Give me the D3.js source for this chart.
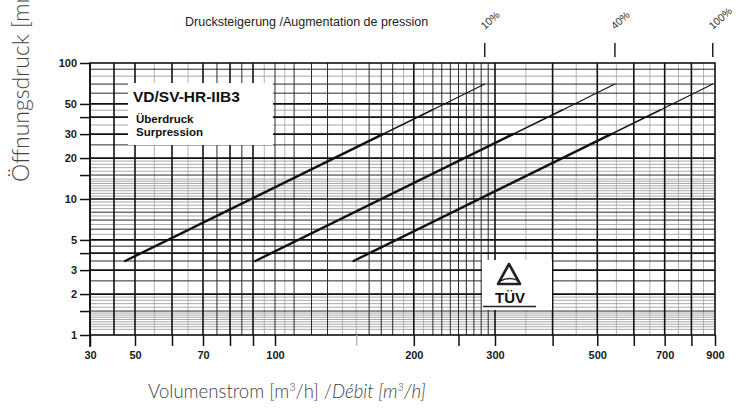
<!DOCTYPE html>
<html>
<head>
<meta charset="utf-8">
<script src="https://cdn.jsdelivr.net/npm/d3@7"></script>
<style>
body { margin: 0; background: #fff; }
svg { display: block; }
.tick text { font-family: "Liberation Sans", Arial, sans-serif; font-weight: bold; font-size: 11px; fill: #1a1a1a; }
.caption { font-family: "Lato", "Open Sans", sans-serif; font-weight: 300; fill: #444; }
</style>
</head>
<body>
<svg id="chart" width="738" height="414"></svg>
<script>
// ---- data ----
var xTickValues = [30, 50, 60, 70, 80, 90, 100, 150, 200, 250, 300, 400, 500, 600, 700, 800, 900];
var xTickLabels = [30, 50, 70, 100, 200, 300, 500, 700, 900];
var yTickValues = [1, 1.5, 2, 3, 4, 5, 10, 15, 20, 30, 40, 50, 100];
var yTickLabels = [1, 2, 3, 5, 10, 20, 30, 50, 100];

var curveNames = ["10%", "40%", "100%"];
var flowStart = [45, 91, 148];   // m3/h at the low end of each curve
var flowEnd = [285, 546, 890];   // m3/h at the top end
var pressStart = 3.5;
var pressEnd = 70;

// grid lines of the printed log paper
var vMajor = [40, 50, 60, 70, 80, 90, 200, 300, 400, 500, 600, 700, 800];
var vMinor = [75, 85, 100, 110, 120, 130, 160, 170, 180, 220, 230, 240, 250, 260, 270, 280, 290];
var vGray = [55, 65, 95, 105, 140, 150, 190, 210, 350, 450, 550, 650, 750, 850];
var hMajor = [2, 3, 4, 5, 10, 20, 30, 40, 50];
var hMinor = [1.5, 2.5, 3.5, 4.5, 6, 7, 8, 15, 25, 60, 70, 90];
var hGray = [1.1, 1.15, 1.2, 1.25, 1.3, 1.35, 1.4, 1.45, 1.6, 1.7, 1.8, 1.9, 5.5, 6.5, 7.5, 8.5, 9, 9.5,
             10.5, 11, 11.5, 12, 12.5, 13, 13.5, 14, 16, 17, 18, 19, 35, 45, 80];

var svg = d3.select("#chart");
var pLeft = 90, pRight = 715, pTop = 63, pBottom = 335;

// the scanned x axis is squeezed below 100, so a piecewise log scale
var x = d3.scaleLog()
  .domain([30, 40, 50, 60, 70, 80, 90, 100, 900])
  .range([pLeft, 114, 135, 172, 203, 230, 253, 275, pRight]);
var y = d3.scaleLog().domain([1, 100]).range([pBottom, pTop]);

var grid = svg.append("g");

function vLines(vals, color, w) {
  grid.selectAll(null).data(vals).join("line")
    .attr("x1", d => x(d)).attr("x2", d => x(d))
    .attr("y1", pTop).attr("y2", pBottom)
    .attr("stroke", color).attr("stroke-width", w);
}
function hLines(vals, color, w) {
  grid.selectAll(null).data(vals).join("line")
    .attr("x1", pLeft).attr("x2", pRight)
    .attr("y1", d => y(d)).attr("y2", d => y(d))
    .attr("stroke", color).attr("stroke-width", w);
}
vLines(vGray, "#b4b4b4", 1);
hLines(hGray, "#a8a8a8", 1);
vLines(vMinor, "#2a2a2a", 1);
hLines(hMinor, "#2a2a2a", 1);
vLines(vMajor, "#111", 1.6);
hLines(hMajor, "#111", 1.7);

// frame
svg.append("rect").attr("x", pLeft).attr("y", pTop)
  .attr("width", pRight - pLeft).attr("height", pBottom - pTop)
  .attr("fill", "none").attr("stroke", "#111").attr("stroke-width", 1.6);

// legend box
var lg = svg.append("g");
lg.append("rect").attr("x", 128).attr("y", 83).attr("width", 145).attr("height", 62).attr("fill", "#fff");
lg.append("text").attr("x", 133).attr("y", 102)
  .style("font-family", "Liberation Sans, Arial, sans-serif").style("font-weight", "bold")
  .style("font-size", "15.5px").attr("fill", "#111").text("VD/SV-HR-IIB3");
lg.append("text").attr("x", 136).attr("y", 123)
  .style("font-family", "Liberation Sans, Arial, sans-serif").style("font-weight", "bold")
  .style("font-size", "11.5px").attr("fill", "#111").text("Überdruck");
lg.append("text").attr("x", 136).attr("y", 136)
  .style("font-family", "Liberation Sans, Arial, sans-serif").style("font-weight", "bold")
  .style("font-size", "11.5px").attr("fill", "#111").text("Surpression");

// TÜV logo box
var tv = svg.append("g");
tv.append("rect").attr("x", 482).attr("y", 260).attr("width", 70).attr("height", 50).attr("fill", "#fff");
tv.append("path").attr("d", "M509,264 L520,284 L498,284 Z")
  .attr("fill", "none").attr("stroke", "#222").attr("stroke-width", 2.6).attr("stroke-linejoin", "round");
tv.append("path").attr("d", "M500,281 Q510,276 519,281")
  .attr("fill", "none").attr("stroke", "#222").attr("stroke-width", 1.6);
tv.append("text").attr("x", 510).attr("y", 303).attr("text-anchor", "middle")
  .style("font-family", "Liberation Sans, Arial, sans-serif").style("font-weight", "bold")
  .style("font-size", "15px").attr("fill", "#111").text("TÜV");
tv.append("line").attr("x1", 483).attr("x2", 536).attr("y1", 306.5).attr("y2", 306.5)
  .attr("stroke", "#222").attr("stroke-width", 1.4);

// curves: thick at the bottom, thinner towards the top
var curves = curveNames.map(function(name, i) {
  return { name: name, q0: flowStart[i], q1: flowEnd[i] };
});
var pieces = [[pressStart, 30, 2.4], [30, 45, 1.6], [45, pressEnd, 1.1]];
var cg = svg.append("g");
curves.forEach(function(c) {
  var x0 = x(c.q0), y0 = y(pressStart), x1 = x(c.q1), y1 = y(pressEnd);
  function at(p) { var t = (y0 - y(p)) / (y0 - y1); return [x0 + t * (x1 - x0), y(p)]; }
  pieces.forEach(function(s) {
    var a = at(s[0]), b = at(s[1]);
    cg.append("line").attr("x1", a[0]).attr("y1", a[1]).attr("x2", b[0]).attr("y2", b[1])
      .attr("stroke", "#111").attr("stroke-width", s[2]).attr("stroke-linecap", "round");
  });
});

// axes
var yAxis = svg.append("g").attr("transform", "translate(" + pLeft + ",0)")
  .call(d3.axisLeft(y).tickValues(yTickValues).tickSize(10).tickPadding(3)
    .tickFormat(d => yTickLabels.indexOf(d) >= 0 ? d : ""));
yAxis.select(".domain").remove();
yAxis.selectAll(".tick line").attr("stroke", "#111").attr("stroke-width", 1.5);

var xAxis = svg.append("g").attr("transform", "translate(0," + pBottom + ")")
  .call(d3.axisBottom(x).tickValues(xTickValues).tickSize(11).tickPadding(5)
    .tickFormat(d => xTickLabels.indexOf(d) >= 0 ? d : ""));
xAxis.select(".domain").remove();
xAxis.selectAll(".tick line").attr("stroke", d => d === 150 ? "#bbb" : "#111").attr("stroke-width", 1.5);

svg.append("line").attr("x1", pLeft).attr("x2", pLeft).attr("y1", pTop).attr("y2", pBottom + 12)
  .attr("stroke", "#111").attr("stroke-width", 1.6);

// pressure increase markers on top
svg.append("text").attr("x", 185).attr("y", 26)
  .style("font-family", "Liberation Sans, Arial, sans-serif").style("font-size", "12.5px")
  .attr("fill", "#222").text("Drucksteigerung /Augmentation de pression");
var pm = svg.append("g").selectAll("g").data(curves).join("g")
  .attr("transform", d => "translate(" + x(d.q1) + ",0)");
pm.append("line").attr("y1", 43).attr("y2", 57).attr("stroke", "#222").attr("stroke-width", 1.5);
pm.append("text").attr("transform", "translate(0,30) rotate(-42)")
  .style("font-family", "Liberation Sans, Arial, sans-serif").style("font-size", "10.5px")
  .attr("fill", "#333").text(d => d.name);

// axis titles
var yt = svg.append("text").attr("class", "caption")
  .attr("transform", "translate(29,182) rotate(-90)")
  .style("font-size", "23px");
yt.append("tspan").text("Öffnungsdruck [mm WS] / ");
yt.append("tspan").style("font-style", "italic").text("Pression d'ouverture");

var xt = svg.append("text").attr("class", "caption")
  .attr("x", 148).attr("y", 398).style("font-size", "18.6px");
xt.append("tspan").text("Volumenstrom [m");
xt.append("tspan").attr("dy", -7).style("font-size", "11px").text("3");
xt.append("tspan").attr("dy", 7).text("/h] /");
xt.append("tspan").style("font-style", "italic").text("Débit [m");
xt.append("tspan").attr("dy", -7).style("font-size", "11px").style("font-style", "italic").text("3");
xt.append("tspan").attr("dy", 7).style("font-style", "italic").text("/h]");
</script>
</body>
</html>
